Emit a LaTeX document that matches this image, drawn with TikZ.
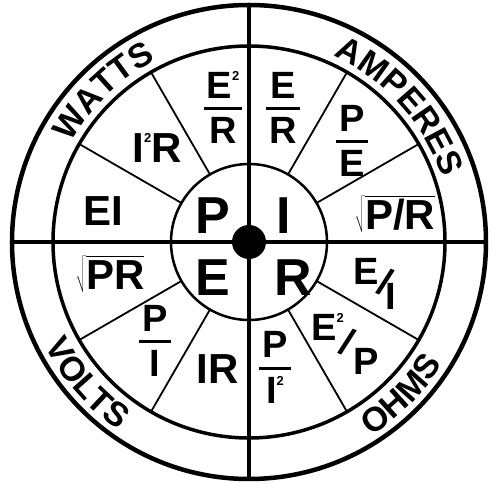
\documentclass[tikz,border=0pt]{standalone}
\usepackage{fontspec}
\setmainfont{Liberation Sans}
\usetikzlibrary{decorations.text}

\newcommand{\unitfont}{\fontsize{34}{34}\bfseries\selectfont}
\newcommand{\two}{\raisebox{0.47em}{\fontsize{13}{13}\selectfont 2}}
\newcommand{\slant}{\rotatebox[origin=c]{-22}{/}}
\newcommand{\frc}[2]{{\setlength{\arrayrulewidth}{3pt}\renewcommand{\arraystretch}{0.6}%
  \begin{tabular}{@{\hspace{3pt}}c@{\hspace{3pt}}}#1\\[2pt]\hline\noalign{\vskip7pt}#2\end{tabular}}}

\begin{document}
\begin{tikzpicture}[x=1pt, y=1pt,
  ring/.style={line width=3.5pt},
  spoke/.style={line width=1.8pt},
  big/.style={inner sep=0pt, font=\fontsize{52}{52}\bfseries\selectfont},
  form/.style={inner sep=0pt, font=\fontsize{42}{42}\bfseries\selectfont},
  frac/.style={inner sep=0pt, font=\fontsize{38}{38}\bfseries\selectfont},
  unit/.style={decorate, decoration={text along path, text align=center, text={|\unitfont|#1}}}]

  \useasboundingbox (-249,-242) rectangle (244,242);
  \coordinate (c) at (0,0);

  % Rings
  \draw[line width=4.5pt] (c) circle[radius=237];
  \draw[ring] (c) circle[radius=196];
  \draw[line width=2.5pt] (c) circle[radius=78];

  % Axes
  \draw[ring] (90:237) -- (270:237);
  \draw[ring] (180:237) -- (0:237);

  % Spokes between the inner ring and the unit ring
  \foreach \a in {30,60,120,150,210,240,300,330}
    \draw[spoke] (\a:78) -- (\a:196);

  \fill (c) circle[radius=17];

  % Centre letters
  \node[big] (p) at (-36,26) {P};
  \node[big] (i) at (35,26) {I};
  \node[big] (e) at (-36,-36) {E};
  \node[big] (r) at (44,-36) {R};

  % Watts
  \node[form] (ei) at (-146,31) {EI};
  \node[form] (iir) at (-92,94) {I\two R};
  \node[frac] (eer) at (-26,131) {\frc{E\two}{R}};

  % Amperes
  \node[frac] (er) at (34,131) {\frc{E}{R}};
  \node[frac] (pe) at (103,98) {\frc{P}{E}};
  \node[form] (spr) at (146,28) {$\sqrt{\hbox{P/R}}$};

  % Ohms
  \node[frac] (ei2) at (126,-42) {E\kern-4pt\raisebox{-11pt}{\slant}\kern-10pt\raisebox{-25pt}{I}};
  \node[frac] (eep) at (96,-102) {E\two\kern-7pt\raisebox{-15pt}{\slant}\kern-4pt\raisebox{-34pt}{P}};
  \node[frac] (pii) at (26,-129) {\frc{P}{I\two}};

  % Volts
  \node[form] (ir) at (-31,-127) {IR};
  \node[frac] (pi) at (-94,-102) {\frc{P}{I}};
  \node[form] (spr2) at (-139,-32) {$\sqrt{\hbox{PR\vphantom{/}}}$};

  % Units round the rim
  \path[unit=WATTS] (170:204) arc[start angle=170, end angle=98, radius=204];
  \path[unit=AMPERES] (82:204) arc[start angle=82, end angle=2, radius=204];
  \path[unit=VOLTS] (181:229) arc[start angle=181, end angle=261, radius=229];
  \path[unit=OHMS] (275:229) arc[start angle=275, end angle=355, radius=229];
\end{tikzpicture}
\end{document}
